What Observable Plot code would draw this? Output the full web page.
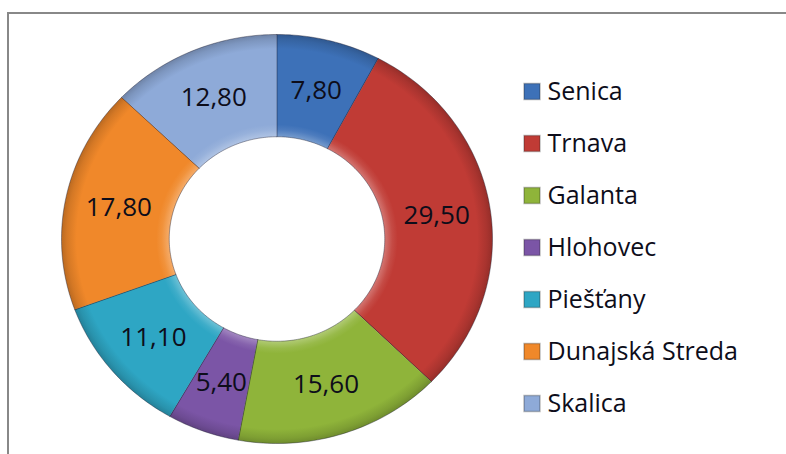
<!DOCTYPE html>
<html>
<head>
<meta charset="utf-8">
<script src="https://cdn.jsdelivr.net/npm/d3@7"></script>
<script src="https://cdn.jsdelivr.net/npm/@observablehq/plot@0.6"></script>
<style>
  html, body { margin: 0; padding: 0; background: #fff; }
  #wrap { position: relative; width: 786px; height: 454px; overflow: hidden; background: #fff; }
  #border { position: absolute; left: 7px; top: 12px; width: 1000px; height: 1000px; border: 2px solid #888; box-sizing: border-box; }
  #main { position: absolute; left: 0; top: 0; }
  #legend { position: absolute; left: 515px; top: 62px; }
</style>
</head>
<body>
<div id="wrap">
  <div id="border"></div>
  <div id="main"></div>
  <div id="legend"></div>
</div>
<script>
const names = ["Senica", "Trnava", "Galanta", "Hlohovec", "Piešťany", "Dunajská Streda", "Skalica"];
const values = [7.80, 29.50, 15.60, 5.40, 11.10, 17.80, 12.80];
const labels = ["7,80", "29,50", "15,60", "5,40", "11,10", "17,80", "12,80"];
const colors = ["#3d71b8", "#c03b35", "#8fb43a", "#7b55a6", "#2ea6c4", "#f0882a", "#8eaad8"];

const innerR = 0.5, outerR = 1.0;
const arcs = d3.pie().sort(null).value(d => d)(values);

// Ring-segment polygons derived from the pie angles
const polys = [];
arcs.forEach((a, i) => {
  const n = Math.max(8, Math.ceil((a.endAngle - a.startAngle) / 0.02));
  for (let k = 0; k <= n; k++) {
    const t = a.startAngle + (a.endAngle - a.startAngle) * k / n;
    polys.push({name: names[i], u: outerR * Math.sin(t), v: outerR * Math.cos(t)});
  }
  for (let k = n; k >= 0; k--) {
    const t = a.startAngle + (a.endAngle - a.startAngle) * k / n;
    polys.push({name: names[i], u: innerR * Math.sin(t), v: innerR * Math.cos(t)});
  }
});

const labelData = arcs.map((a, i) => {
  const m = (a.startAngle + a.endAngle) / 2, r = (innerR + outerR) / 2;
  return {name: names[i], label: labels[i], u: r * Math.sin(m), v: r * Math.cos(m)};
});

const gradIds = names.map((d, i) => `url(#seg${i})`);

const main = Plot.plot({
  width: 786, height: 454,
  margin: 0,
  style: {background: "transparent", fontFamily: "'Open Sans', sans-serif"},
  x: {domain: [-1, 1], range: [61, 492], axis: null},
  y: {domain: [-1, 1], range: [443, 34], axis: null},
  color: {domain: names, range: gradIds},
  marks: [
    Plot.line(polys, {x: "u", y: "v", z: "name", fill: "name", stroke: "#1a1a2e", strokeOpacity: 0.4, strokeWidth: 1, curve: "linear-closed"}),
    Plot.text(labelData, {x: "u", y: "v", text: "label", fill: "#0d0d1a", fontSize: 26, fontFamily: "'Open Sans', sans-serif"})
  ]
});

// Gradient definitions (bevel-like shading) using the plot's own scales for geometry
{
  const sx = main.scale("x"), sy = main.scale("y");
  const cx = sx.apply(0), cy = sy.apply(0);
  const rx = sx.apply(outerR) - cx, ry = cy - sy.apply(outerR);
  const ns = "http://www.w3.org/2000/svg";
  const defs = document.createElementNS(ns, "defs");
  colors.forEach((c, i) => {
    const g = document.createElementNS(ns, "radialGradient");
    g.setAttribute("id", `seg${i}`);
    g.setAttribute("gradientUnits", "userSpaceOnUse");
    g.setAttribute("cx", cx); g.setAttribute("cy", cy); g.setAttribute("r", rx);
    g.setAttribute("gradientTransform", `translate(${cx},${cy}) scale(1,${ry / rx}) translate(${-cx},${-cy})`);
    const base = d3.color(c);
    const stops = [
      [0.50, d3.interpolateRgb(c, "#fff")(0.30)],
      [0.535, d3.interpolateRgb(c, "#fff")(0.08)],
      [0.56, c],
      [0.93, c],
      [0.975, base.darker(0.35).formatHex()],
      [1.0, base.darker(0.7).formatHex()]
    ];
    stops.forEach(([o, col]) => {
      const s = document.createElementNS(ns, "stop");
      s.setAttribute("offset", o);
      s.setAttribute("stop-color", col);
      g.appendChild(s);
    });
    defs.appendChild(g);
  });
  main.insertBefore(defs, main.firstChild);
}
document.getElementById("main").appendChild(main);

const legend = Plot.plot({
  width: 270, height: 370,
  margin: 0,
  style: {background: "transparent", fontFamily: "'Open Sans', sans-serif"},
  y: {type: "point", domain: names, range: [26, 343], padding: 0, axis: null},
  marks: [
    Plot.dot(names, {y: d => d, frameAnchor: "left", dx: 16.5, symbol: "square", r: 9, fill: (d, i) => colors[i], stroke: "#222", strokeOpacity: 0.3}),
    Plot.text(names, {y: d => d, frameAnchor: "left", dx: 32, textAnchor: "start", text: d => d, fill: "#0d0d1a", fontSize: 25, fontFamily: "'Open Sans', sans-serif"})
  ]
});
document.getElementById("legend").appendChild(legend);
</script>
</body>
</html>
